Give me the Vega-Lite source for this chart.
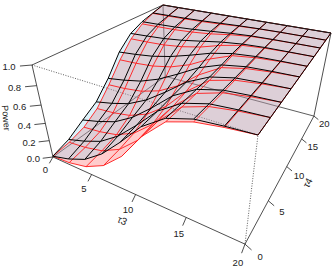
{"$schema":"https://vega.github.io/schema/vega-lite/v6.json","width":334,"height":268,"padding":0,"autosize":"none","background":"white","view":{"stroke":null},
"data":{"values":[
{"kind":"red","tau3":0,"tau4":0,"power":0.01},{"kind":"red","tau3":0,"tau4":2.22,"power":0.034},{"kind":"red","tau3":0,"tau4":4.44,"power":0.088},{"kind":"red","tau3":0,"tau4":6.67,"power":0.2},{"kind":"red","tau3":0,"tau4":8.89,"power":0.39},{"kind":"red","tau3":0,"tau4":11.11,"power":0.605},{"kind":"red","tau3":0,"tau4":13.33,"power":0.78},{"kind":"red","tau3":0,"tau4":15.56,"power":0.89},{"kind":"red","tau3":0,"tau4":17.78,"power":0.955},{"kind":"red","tau3":0,"tau4":20,"power":1},
{"kind":"red","tau3":2.22,"tau4":0,"power":0.023},{"kind":"red","tau3":2.22,"tau4":2.22,"power":0.056},{"kind":"red","tau3":2.22,"tau4":4.44,"power":0.109},{"kind":"red","tau3":2.22,"tau4":6.67,"power":0.218},{"kind":"red","tau3":2.22,"tau4":8.89,"power":0.404},{"kind":"red","tau3":2.22,"tau4":11.11,"power":0.614},{"kind":"red","tau3":2.22,"tau4":13.33,"power":0.785},{"kind":"red","tau3":2.22,"tau4":15.56,"power":0.893},{"kind":"red","tau3":2.22,"tau4":17.78,"power":0.956},{"kind":"red","tau3":2.22,"tau4":20,"power":1},
{"kind":"red","tau3":4.44,"tau4":0,"power":0.07},{"kind":"red","tau3":4.44,"tau4":2.22,"power":0.102},{"kind":"red","tau3":4.44,"tau4":4.44,"power":0.152},{"kind":"red","tau3":4.44,"tau4":6.67,"power":0.256},{"kind":"red","tau3":4.44,"tau4":8.89,"power":0.433},{"kind":"red","tau3":4.44,"tau4":11.11,"power":0.633},{"kind":"red","tau3":4.44,"tau4":13.33,"power":0.795},{"kind":"red","tau3":4.44,"tau4":15.56,"power":0.898},{"kind":"red","tau3":4.44,"tau4":17.78,"power":0.958},{"kind":"red","tau3":4.44,"tau4":20,"power":1},
{"kind":"red","tau3":6.67,"tau4":0,"power":0.18},{"kind":"red","tau3":6.67,"tau4":2.22,"power":0.208},{"kind":"red","tau3":6.67,"tau4":4.44,"power":0.252},{"kind":"red","tau3":6.67,"tau4":6.67,"power":0.344},{"kind":"red","tau3":6.67,"tau4":8.89,"power":0.5},{"kind":"red","tau3":6.67,"tau4":11.11,"power":0.676},{"kind":"red","tau3":6.67,"tau4":13.33,"power":0.82},{"kind":"red","tau3":6.67,"tau4":15.56,"power":0.91},{"kind":"red","tau3":6.67,"tau4":17.78,"power":0.963},{"kind":"red","tau3":6.67,"tau4":20,"power":1},
{"kind":"red","tau3":8.89,"tau4":0,"power":0.375},{"kind":"red","tau3":8.89,"tau4":2.22,"power":0.396},{"kind":"red","tau3":8.89,"tau4":4.44,"power":0.43},{"kind":"red","tau3":8.89,"tau4":6.67,"power":0.5},{"kind":"red","tau3":8.89,"tau4":8.89,"power":0.619},{"kind":"red","tau3":8.89,"tau4":11.11,"power":0.753},{"kind":"red","tau3":8.89,"tau4":13.33,"power":0.862},{"kind":"red","tau3":8.89,"tau4":15.56,"power":0.931},{"kind":"red","tau3":8.89,"tau4":17.78,"power":0.972},{"kind":"red","tau3":8.89,"tau4":20,"power":1},
{"kind":"red","tau3":11.11,"tau4":0,"power":0.66},{"kind":"red","tau3":11.11,"tau4":2.22,"power":0.672},{"kind":"red","tau3":11.11,"tau4":4.44,"power":0.69},{"kind":"red","tau3":11.11,"tau4":6.67,"power":0.728},{"kind":"red","tau3":11.11,"tau4":8.89,"power":0.793},{"kind":"red","tau3":11.11,"tau4":11.11,"power":0.866},{"kind":"red","tau3":11.11,"tau4":13.33,"power":0.925},{"kind":"red","tau3":11.11,"tau4":15.56,"power":0.963},{"kind":"red","tau3":11.11,"tau4":17.78,"power":0.985},{"kind":"red","tau3":11.11,"tau4":20,"power":1},
{"kind":"red","tau3":13.33,"tau4":0,"power":0.87},{"kind":"red","tau3":13.33,"tau4":2.22,"power":0.874},{"kind":"red","tau3":13.33,"tau4":4.44,"power":0.881},{"kind":"red","tau3":13.33,"tau4":6.67,"power":0.896},{"kind":"red","tau3":13.33,"tau4":8.89,"power":0.921},{"kind":"red","tau3":13.33,"tau4":11.11,"power":0.949},{"kind":"red","tau3":13.33,"tau4":13.33,"power":0.971},{"kind":"red","tau3":13.33,"tau4":15.56,"power":0.986},{"kind":"red","tau3":13.33,"tau4":17.78,"power":0.994},{"kind":"red","tau3":13.33,"tau4":20,"power":1},
{"kind":"red","tau3":15.56,"tau4":0,"power":0.945},{"kind":"red","tau3":15.56,"tau4":2.22,"power":0.947},{"kind":"red","tau3":15.56,"tau4":4.44,"power":0.95},{"kind":"red","tau3":15.56,"tau4":6.67,"power":0.956},{"kind":"red","tau3":15.56,"tau4":8.89,"power":0.966},{"kind":"red","tau3":15.56,"tau4":11.11,"power":0.978},{"kind":"red","tau3":15.56,"tau4":13.33,"power":0.988},{"kind":"red","tau3":15.56,"tau4":15.56,"power":0.994},{"kind":"red","tau3":15.56,"tau4":17.78,"power":0.998},{"kind":"red","tau3":15.56,"tau4":20,"power":1},
{"kind":"red","tau3":17.78,"tau4":0,"power":0.978},{"kind":"red","tau3":17.78,"tau4":2.22,"power":0.979},{"kind":"red","tau3":17.78,"tau4":4.44,"power":0.98},{"kind":"red","tau3":17.78,"tau4":6.67,"power":0.982},{"kind":"red","tau3":17.78,"tau4":8.89,"power":0.987},{"kind":"red","tau3":17.78,"tau4":11.11,"power":0.991},{"kind":"red","tau3":17.78,"tau4":13.33,"power":0.995},{"kind":"red","tau3":17.78,"tau4":15.56,"power":0.998},{"kind":"red","tau3":17.78,"tau4":17.78,"power":0.999},{"kind":"red","tau3":17.78,"tau4":20,"power":1},
{"kind":"red","tau3":20,"tau4":0,"power":1},{"kind":"red","tau3":20,"tau4":2.22,"power":1},{"kind":"red","tau3":20,"tau4":4.44,"power":1},{"kind":"red","tau3":20,"tau4":6.67,"power":1},{"kind":"red","tau3":20,"tau4":8.89,"power":1},{"kind":"red","tau3":20,"tau4":11.11,"power":1},{"kind":"red","tau3":20,"tau4":13.33,"power":1},{"kind":"red","tau3":20,"tau4":15.56,"power":1},{"kind":"red","tau3":20,"tau4":17.78,"power":1},{"kind":"red","tau3":20,"tau4":20,"power":1},
{"kind":"blue","tau3":0,"tau4":0,"power":0.01},{"kind":"blue","tau3":0,"tau4":2.22,"power":0.07},{"kind":"blue","tau3":0,"tau4":4.44,"power":0.18},{"kind":"blue","tau3":0,"tau4":6.67,"power":0.285},{"kind":"blue","tau3":0,"tau4":8.89,"power":0.47},{"kind":"blue","tau3":0,"tau4":11.11,"power":0.7},{"kind":"blue","tau3":0,"tau4":13.33,"power":0.845},{"kind":"blue","tau3":0,"tau4":15.56,"power":0.917},{"kind":"blue","tau3":0,"tau4":17.78,"power":0.96},{"kind":"blue","tau3":0,"tau4":20,"power":1},
{"kind":"blue","tau3":2.22,"tau4":0,"power":0.068},{"kind":"blue","tau3":2.22,"tau4":2.22,"power":0.133},{"kind":"blue","tau3":2.22,"tau4":4.44,"power":0.236},{"kind":"blue","tau3":2.22,"tau4":6.67,"power":0.334},{"kind":"blue","tau3":2.22,"tau4":8.89,"power":0.506},{"kind":"blue","tau3":2.22,"tau4":11.11,"power":0.72},{"kind":"blue","tau3":2.22,"tau4":13.33,"power":0.856},{"kind":"blue","tau3":2.22,"tau4":15.56,"power":0.923},{"kind":"blue","tau3":2.22,"tau4":17.78,"power":0.963},{"kind":"blue","tau3":2.22,"tau4":20,"power":1},
{"kind":"blue","tau3":4.44,"tau4":0,"power":0.156},{"kind":"blue","tau3":4.44,"tau4":2.22,"power":0.215},{"kind":"blue","tau3":4.44,"tau4":4.44,"power":0.308},{"kind":"blue","tau3":4.44,"tau4":6.67,"power":0.397},{"kind":"blue","tau3":4.44,"tau4":8.89,"power":0.553},{"kind":"blue","tau3":4.44,"tau4":11.11,"power":0.747},{"kind":"blue","tau3":4.44,"tau4":13.33,"power":0.869},{"kind":"blue","tau3":4.44,"tau4":15.56,"power":0.93},{"kind":"blue","tau3":4.44,"tau4":17.78,"power":0.966},{"kind":"blue","tau3":4.44,"tau4":20,"power":1},
{"kind":"blue","tau3":6.67,"tau4":0,"power":0.31},{"kind":"blue","tau3":6.67,"tau4":2.22,"power":0.358},{"kind":"blue","tau3":6.67,"tau4":4.44,"power":0.434},{"kind":"blue","tau3":6.67,"tau4":6.67,"power":0.507},{"kind":"blue","tau3":6.67,"tau4":8.89,"power":0.634},{"kind":"blue","tau3":6.67,"tau4":11.11,"power":0.793},{"kind":"blue","tau3":6.67,"tau4":13.33,"power":0.893},{"kind":"blue","tau3":6.67,"tau4":15.56,"power":0.943},{"kind":"blue","tau3":6.67,"tau4":17.78,"power":0.972},{"kind":"blue","tau3":6.67,"tau4":20,"power":1},
{"kind":"blue","tau3":8.89,"tau4":0,"power":0.52},{"kind":"blue","tau3":8.89,"tau4":2.22,"power":0.554},{"kind":"blue","tau3":8.89,"tau4":4.44,"power":0.606},{"kind":"blue","tau3":8.89,"tau4":6.67,"power":0.657},{"kind":"blue","tau3":8.89,"tau4":8.89,"power":0.746},{"kind":"blue","tau3":8.89,"tau4":11.11,"power":0.856},{"kind":"blue","tau3":8.89,"tau4":13.33,"power":0.926},{"kind":"blue","tau3":8.89,"tau4":15.56,"power":0.96},{"kind":"blue","tau3":8.89,"tau4":17.78,"power":0.981},{"kind":"blue","tau3":8.89,"tau4":20,"power":1},
{"kind":"blue","tau3":11.11,"tau4":0,"power":0.75},{"kind":"blue","tau3":11.11,"tau4":2.22,"power":0.767},{"kind":"blue","tau3":11.11,"tau4":4.44,"power":0.795},{"kind":"blue","tau3":11.11,"tau4":6.67,"power":0.821},{"kind":"blue","tau3":11.11,"tau4":8.89,"power":0.867},{"kind":"blue","tau3":11.11,"tau4":11.11,"power":0.925},{"kind":"blue","tau3":11.11,"tau4":13.33,"power":0.961},{"kind":"blue","tau3":11.11,"tau4":15.56,"power":0.979},{"kind":"blue","tau3":11.11,"tau4":17.78,"power":0.99},{"kind":"blue","tau3":11.11,"tau4":20,"power":1},
{"kind":"blue","tau3":13.33,"tau4":0,"power":0.9},{"kind":"blue","tau3":13.33,"tau4":2.22,"power":0.907},{"kind":"blue","tau3":13.33,"tau4":4.44,"power":0.918},{"kind":"blue","tau3":13.33,"tau4":6.67,"power":0.928},{"kind":"blue","tau3":13.33,"tau4":8.89,"power":0.947},{"kind":"blue","tau3":13.33,"tau4":11.11,"power":0.97},{"kind":"blue","tau3":13.33,"tau4":13.33,"power":0.984},{"kind":"blue","tau3":13.33,"tau4":15.56,"power":0.992},{"kind":"blue","tau3":13.33,"tau4":17.78,"power":0.996},{"kind":"blue","tau3":13.33,"tau4":20,"power":1},
{"kind":"blue","tau3":15.56,"tau4":0,"power":0.968},{"kind":"blue","tau3":15.56,"tau4":2.22,"power":0.97},{"kind":"blue","tau3":15.56,"tau4":4.44,"power":0.974},{"kind":"blue","tau3":15.56,"tau4":6.67,"power":0.977},{"kind":"blue","tau3":15.56,"tau4":8.89,"power":0.983},{"kind":"blue","tau3":15.56,"tau4":11.11,"power":0.99},{"kind":"blue","tau3":15.56,"tau4":13.33,"power":0.995},{"kind":"blue","tau3":15.56,"tau4":15.56,"power":0.997},{"kind":"blue","tau3":15.56,"tau4":17.78,"power":0.999},{"kind":"blue","tau3":15.56,"tau4":20,"power":1},
{"kind":"blue","tau3":17.78,"tau4":0,"power":0.988},{"kind":"blue","tau3":17.78,"tau4":2.22,"power":0.989},{"kind":"blue","tau3":17.78,"tau4":4.44,"power":0.99},{"kind":"blue","tau3":17.78,"tau4":6.67,"power":0.991},{"kind":"blue","tau3":17.78,"tau4":8.89,"power":0.994},{"kind":"blue","tau3":17.78,"tau4":11.11,"power":0.996},{"kind":"blue","tau3":17.78,"tau4":13.33,"power":0.998},{"kind":"blue","tau3":17.78,"tau4":15.56,"power":0.999},{"kind":"blue","tau3":17.78,"tau4":17.78,"power":1},{"kind":"blue","tau3":17.78,"tau4":20,"power":1},
{"kind":"blue","tau3":20,"tau4":0,"power":1},{"kind":"blue","tau3":20,"tau4":2.22,"power":1},{"kind":"blue","tau3":20,"tau4":4.44,"power":1},{"kind":"blue","tau3":20,"tau4":6.67,"power":1},{"kind":"blue","tau3":20,"tau4":8.89,"power":1},{"kind":"blue","tau3":20,"tau4":11.11,"power":1},{"kind":"blue","tau3":20,"tau4":13.33,"power":1},{"kind":"blue","tau3":20,"tau4":15.56,"power":1},{"kind":"blue","tau3":20,"tau4":17.78,"power":1},{"kind":"blue","tau3":20,"tau4":20,"power":1},
{"kind":"front","edge":"box","seq":0,"tau3":0,"tau4":0,"power":1},{"kind":"front","edge":"box","seq":1,"tau3":0,"tau4":20,"power":1},{"kind":"front","edge":"box","seq":2,"tau3":20,"tau4":20,"power":1},{"kind":"front","edge":"box","seq":3,"tau3":20,"tau4":20,"power":0},{"kind":"front","edge":"box","seq":4,"tau3":20,"tau4":0,"power":0},{"kind":"front","edge":"box","seq":5,"tau3":0,"tau4":0,"power":0},{"kind":"front","edge":"box","seq":6,"tau3":0,"tau4":0,"power":1},
{"kind":"back","edge":"ad","seq":0,"tau3":0,"tau4":0,"power":0},{"kind":"back","edge":"ad","seq":1,"tau3":0,"tau4":20,"power":0},{"kind":"back","edge":"ad","seq":2,"tau3":20,"tau4":20,"power":0},{"kind":"back","edge":"dh","seq":0,"tau3":0,"tau4":20,"power":0},{"kind":"back","edge":"dh","seq":1,"tau3":0,"tau4":20,"power":1},
{"kind":"dotted","edge":"d","seq":0,"tau3":0,"tau4":0,"power":1},{"kind":"dotted","edge":"d","seq":1,"tau3":20,"tau4":0,"power":1},{"kind":"dotted","edge":"d","seq":2,"tau3":20,"tau4":0,"power":0},{"kind":"dotted","edge":"e","seq":0,"tau3":20,"tau4":0,"power":1},{"kind":"dotted","edge":"e","seq":1,"tau3":20,"tau4":20,"power":1},
{"kind":"front","edge":"t3-0","seq":0,"tau3":0,"tau4":0,"power":0},{"kind":"front","edge":"t3-0","seq":1,"tau3":0,"tau4":-0.55,"power":-0.04},{"kind":"front","edge":"t3-5","seq":0,"tau3":5,"tau4":0,"power":0},{"kind":"front","edge":"t3-5","seq":1,"tau3":5,"tau4":-0.55,"power":-0.04},{"kind":"front","edge":"t3-10","seq":0,"tau3":10,"tau4":0,"power":0},{"kind":"front","edge":"t3-10","seq":1,"tau3":10,"tau4":-0.55,"power":-0.04},{"kind":"front","edge":"t3-15","seq":0,"tau3":15,"tau4":0,"power":0},{"kind":"front","edge":"t3-15","seq":1,"tau3":15,"tau4":-0.55,"power":-0.04},{"kind":"front","edge":"t3-20","seq":0,"tau3":20,"tau4":0,"power":0},{"kind":"front","edge":"t3-20","seq":1,"tau3":20,"tau4":-0.55,"power":-0.04},
{"kind":"front","edge":"t4-0","seq":0,"tau3":20,"tau4":0,"power":0},{"kind":"front","edge":"t4-0","seq":1,"tau3":20.54,"tau4":0,"power":-0.03},{"kind":"front","edge":"t4-5","seq":0,"tau3":20,"tau4":5,"power":0},{"kind":"front","edge":"t4-5","seq":1,"tau3":20.54,"tau4":5,"power":-0.03},{"kind":"front","edge":"t4-10","seq":0,"tau3":20,"tau4":10,"power":0},{"kind":"front","edge":"t4-10","seq":1,"tau3":20.54,"tau4":10,"power":-0.03},{"kind":"front","edge":"t4-15","seq":0,"tau3":20,"tau4":15,"power":0},{"kind":"front","edge":"t4-15","seq":1,"tau3":20.54,"tau4":15,"power":-0.03},{"kind":"front","edge":"t4-20","seq":0,"tau3":20,"tau4":20,"power":0},{"kind":"front","edge":"t4-20","seq":1,"tau3":20.54,"tau4":20,"power":-0.03},
{"kind":"front","edge":"p-0","seq":0,"tau3":0,"tau4":0,"power":0},{"kind":"front","edge":"p-0","seq":1,"tau3":-0.72,"tau4":-0.64,"power":0},{"kind":"front","edge":"p-2","seq":0,"tau3":0,"tau4":0,"power":0.2},{"kind":"front","edge":"p-2","seq":1,"tau3":-0.72,"tau4":-0.64,"power":0.2},{"kind":"front","edge":"p-4","seq":0,"tau3":0,"tau4":0,"power":0.4},{"kind":"front","edge":"p-4","seq":1,"tau3":-0.72,"tau4":-0.64,"power":0.4},{"kind":"front","edge":"p-6","seq":0,"tau3":0,"tau4":0,"power":0.6},{"kind":"front","edge":"p-6","seq":1,"tau3":-0.72,"tau4":-0.64,"power":0.6},{"kind":"front","edge":"p-8","seq":0,"tau3":0,"tau4":0,"power":0.8},{"kind":"front","edge":"p-8","seq":1,"tau3":-0.72,"tau4":-0.64,"power":0.8},{"kind":"front","edge":"p-10","seq":0,"tau3":0,"tau4":0,"power":1},{"kind":"front","edge":"p-10","seq":1,"tau3":-0.72,"tau4":-0.64,"power":1},
{"kind":"label","label":"0","tau3":0,"tau4":-1.15,"power":-0.081},{"kind":"label","label":"5","tau3":5,"tau4":-1.15,"power":-0.081},{"kind":"label","label":"10","tau3":10,"tau4":-1.15,"power":-0.081},{"kind":"label","label":"15","tau3":15,"tau4":-1.15,"power":-0.081},{"kind":"label","label":"20","tau3":20,"tau4":-1.15,"power":-0.081},
{"kind":"label","label":"0","tau3":21.24,"tau4":0,"power":-0.061},{"kind":"label","label":"5","tau3":21.24,"tau4":5,"power":-0.061},{"kind":"label","label":"10","tau3":21.24,"tau4":10,"power":-0.061},{"kind":"label","label":"15","tau3":21.24,"tau4":15,"power":-0.061},{"kind":"label","label":"20","tau3":21.24,"tau4":20,"power":-0.061},
{"kind":"label","label":"0.0","tau3":-1.36,"tau4":-1.22,"power":0},{"kind":"label","label":"0.2","tau3":-1.36,"tau4":-1.22,"power":0.2},{"kind":"label","label":"0.4","tau3":-1.36,"tau4":-1.22,"power":0.4},{"kind":"label","label":"0.6","tau3":-1.36,"tau4":-1.22,"power":0.6},{"kind":"label","label":"0.8","tau3":-1.36,"tau4":-1.22,"power":0.8},{"kind":"label","label":"1.0","tau3":-1.36,"tau4":-1.22,"power":1},
{"kind":"title3","label":"τ3","tau3":10,"tau4":-2.02,"power":-0.13},{"kind":"title4","label":"τ4","tau3":22.14,"tau4":10,"power":-0.105},{"kind":"titlep","label":"Power","tau3":-2.43,"tau4":-2.1,"power":0.5}
]},
"transform":[
{"calculate":"datum.tau3/20","as":"u"},{"calculate":"datum.tau4/20","as":"v"},{"calculate":"1-datum.power","as":"t"},
{"calculate":"1-0.2832*datum.u+0.4683*datum.v+0.158*datum.t","as":"w"},
{"calculate":"(32+152.93*datum.u+207.33*datum.v+29.37*datum.t)/datum.w","as":"sx"},
{"calculate":"(65+31.77*datum.u-57.66*datum.v+116.8*datum.t)/datum.w","as":"sy"}
],
"encoding":{"x":{"field":"sx","type":"quantitative","scale":{"domain":[0,334],"nice":false,"zero":false},"axis":null},"y":{"field":"sy","type":"quantitative","scale":{"domain":[268,0],"nice":false,"zero":false},"axis":null}},
"layer":[
{"transform":[{"filter":"datum.kind=='dotted'"}],"mark":{"type":"line","color":"#333333","strokeWidth":0.8,"strokeDash":[1,1.5]},"encoding":{"detail":{"field":"edge"},"order":{"field":"seq"}}},
{"transform":[{"filter":"datum.kind=='back'"}],"mark":{"type":"line","color":"#333333","strokeWidth":0.8},"encoding":{"detail":{"field":"edge"},"order":{"field":"seq"}}},
{"transform":[{"filter":"datum.kind=='red'"},{"calculate":"[0,1,2,3]","as":"corner"},{"flatten":["corner"]},{"calculate":"round(datum.tau3*0.45)-(datum.corner==1||datum.corner==2?1:0)","as":"cu"},{"calculate":"round(datum.tau4*0.45)-(datum.corner>=2?1:0)","as":"cv"},{"filter":"datum.cu>=0&&datum.cu<9&&datum.cv>=0&&datum.cv<9"},{"calculate":"datum.cu+'-'+datum.cv","as":"cell"}],"mark":{"type":"line","interpolate":"linear-closed","filled":true,"fill":"#ff0000","fillOpacity":0.2,"strokeWidth":0},"encoding":{"detail":{"field":"cell"},"order":{"field":"corner"}}},
{"transform":[{"filter":"datum.kind=='blue'"},{"calculate":"[0,1,2,3]","as":"corner"},{"flatten":["corner"]},{"calculate":"round(datum.tau3*0.45)-(datum.corner==1||datum.corner==2?1:0)","as":"cu"},{"calculate":"round(datum.tau4*0.45)-(datum.corner>=2?1:0)","as":"cv"},{"filter":"datum.cu>=0&&datum.cu<9&&datum.cv>=0&&datum.cv<9"},{"calculate":"datum.cu+'-'+datum.cv","as":"cell"}],"mark":{"type":"line","interpolate":"linear-closed","filled":true,"fill":"#96D8F0","fillOpacity":0.32,"strokeWidth":0},"encoding":{"detail":{"field":"cell"},"order":{"field":"corner"}}},
{"transform":[{"filter":"datum.kind=='red'"}],"mark":{"type":"line","color":"#ff1a1a","strokeWidth":0.9},"encoding":{"detail":{"field":"tau3"},"order":{"field":"tau4"}}},
{"transform":[{"filter":"datum.kind=='red'"}],"mark":{"type":"line","color":"#ff1a1a","strokeWidth":0.9},"encoding":{"detail":{"field":"tau4"},"order":{"field":"tau3"}}},
{"transform":[{"filter":"datum.kind=='blue'"}],"mark":{"type":"line","color":"#000000","strokeWidth":1},"encoding":{"detail":{"field":"tau3"},"order":{"field":"tau4"}}},
{"transform":[{"filter":"datum.kind=='blue'"}],"mark":{"type":"line","color":"#000000","strokeWidth":1},"encoding":{"detail":{"field":"tau4"},"order":{"field":"tau3"}}},
{"transform":[{"filter":"datum.kind=='front'"}],"mark":{"type":"line","color":"#222222","strokeWidth":0.8},"encoding":{"detail":{"field":"edge"},"order":{"field":"seq"}}},
{"transform":[{"filter":"datum.kind=='label'"}],"mark":{"type":"text","font":"Liberation Sans","fontSize":9.5,"color":"#222222","align":"center","baseline":"middle"},"encoding":{"text":{"field":"label"}}},
{"transform":[{"filter":"datum.kind=='title3'"}],"mark":{"type":"text","font":"Liberation Sans","fontSize":10,"color":"#222222","align":"center","baseline":"middle","angle":25},"encoding":{"text":{"field":"label"}}},
{"transform":[{"filter":"datum.kind=='title4'"}],"mark":{"type":"text","font":"Liberation Sans","fontSize":10,"color":"#222222","align":"center","baseline":"middle","angle":-61},"encoding":{"text":{"field":"label"}}},
{"transform":[{"filter":"datum.kind=='titlep'"}],"mark":{"type":"text","font":"Liberation Sans","fontSize":9,"color":"#222222","align":"center","baseline":"middle","angle":85},"encoding":{"text":{"field":"label"}}}
]}
